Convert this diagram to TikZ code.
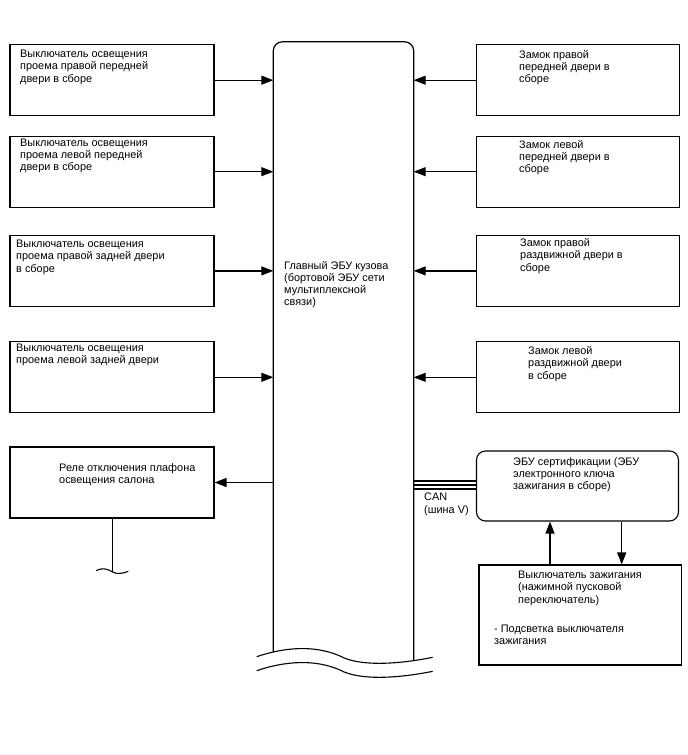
\documentclass[tikz,border=0pt]{standalone}
\usepackage{fontspec}
\setmainfont{Liberation Sans}
\usetikzlibrary{arrows.meta, positioning, calc}

\begin{document}
\begin{tikzpicture}[
    x=1pt, y=-1pt,
    block/.style={rectangle, draw, line width=1.1pt, inner sep=0pt, minimum width=204pt, minimum height=71pt},
    ecu/.style={block, rounded corners=9pt, minimum width=202pt, minimum height=70pt},
    txt/.style={anchor=north west, inner sep=0pt, align=left, font=\fontsize{10.9}{12.2}\selectfont},
    arrow/.style={-{Triangle[length=12pt, width=9pt]}, line width=1.2pt},
    bus/.style={line width=2pt}
]
\useasboundingbox (0,0) rectangle (688,755);

% main body ECU
\node[minimum width=140pt, minimum height=620pt, inner sep=0pt] (main) at (343.5,352) {};
\draw[line width=1.2pt, rounded corners=9pt] (main.west |- 0,652) -- (main.north west) -- (main.north east) -- (main.east |- 0,661);
\draw[line width=1.1pt] (256.7,656.7) .. controls (285,647) and (315,645) .. (340,656) .. controls (360,667) and (400,664) .. (432.7,657.3);
\draw[line width=1.1pt] (256.7,670.7) .. controls (285,661) and (315,659) .. (340,670) .. controls (360,681) and (400,678) .. (432.7,671.3);
\node[txt] (tmain) at (284,261) {Главный ЭБУ кузова\\(бортовой ЭБУ сети\\мультиплексной\\связи)};

% left: door courtesy switches
\node[block] (sw1) at (112,80.2) {};
\node[block] (sw2) at (112,171.7) {};
\node[block] (sw3) at (112,270.9) {};
\node[block] (sw4) at (112,377.3) {};
\node[block] (relay) at (112,482.5) {};
\node[txt] (tsw1) at (20,50) {Выключатель освещения\\проема правой передней\\двери в сборе};
\node[txt] (tsw2) at (20,138.5) {Выключатель освещения\\проема левой передней\\двери в сборе};
\node[txt] (tsw3) at (16,240) {Выключатель освещения\\проема правой задней двери\\в сборе};
\node[txt] (tsw4) at (16,344) {Выключатель освещения\\проема левой задней двери};
\node[txt] (trelay) at (59,463.5) {Реле отключения плафона\\освещения салона};

% right: door locks
\node[block, minimum width=202.6pt] (lk1) at (578,80.2) {};
\node[block, minimum width=202.6pt] (lk2) at (578,171.7) {};
\node[block, minimum width=202.6pt] (lk3) at (578,270.9) {};
\node[block, minimum width=202.6pt] (lk4) at (578,377.3) {};
\node[txt] (tlk1) at (519,50) {Замок правой\\передней двери в\\сборе};
\node[txt] (tlk2) at (519,140) {Замок левой\\передней двери в\\сборе};
\node[txt] (tlk3) at (520,238.5) {Замок правой\\раздвижной двери в\\сборе};
\node[txt] (tlk4) at (528,346.5) {Замок левой\\раздвижной двери\\в сборе};

% certification ECU and ignition switch
\node[ecu] (cert) at (577.5,486) {};
\node[block, minimum width=202.7pt, minimum height=100pt] (ign) at (580.3,615) {};
\node[txt] (tcert) at (513,457) {ЭБУ сертификации (ЭБУ\\электронного ключа\\зажигания в сборе)};
\node[txt] (tign) at (518,571) {Выключатель зажигания\\(нажимной пусковой\\переключатель)};
\node[txt] (tlamp) at (494,625) {- Подсветка выключателя\\зажигания};
\node[txt] (tcan) at (424,493) {CAN\\(шина V)};

\draw[arrow] (sw1) -- (sw1 -| main.west);
\draw[arrow] (sw2) -- (sw2 -| main.west);
\draw[arrow] (sw3) -- (sw3 -| main.west);
\draw[arrow] (sw4) -- (sw4 -| main.west);
\draw[arrow] (relay -| main.west) -- (relay);
\draw[arrow] (lk1) -- (lk1 -| main.east);
\draw[arrow] (lk2) -- (lk2 -| main.east);
\draw[arrow] (lk3) -- (lk3 -| main.east);
\draw[arrow] (lk4) -- (lk4 -| main.east);

\foreach \dy in {-5.3,-1,3.3}
  \draw[bus] ($(cert.west)+(0,\dy)$) -- ($(cert.west -| main.east)+(0,\dy)$);

\draw[arrow] (ign.north -| 550,0) -- (cert.south -| 550,0);
\draw[arrow] (cert.south -| 621.7,0) -- (ign.north -| 621.7,0);

% relay wire cut
\coordinate (cut) at (112.5,572);
\draw[line width=1.1pt] (relay.south -| cut) -- (cut);
\draw[line width=1.1pt] (96,570.7) .. controls (102,567.5) and (107,568.5) .. (112.5,572) .. controls (117,574.5) and (123,573.5) .. (128.3,571.3);
\end{tikzpicture}
\end{document}
